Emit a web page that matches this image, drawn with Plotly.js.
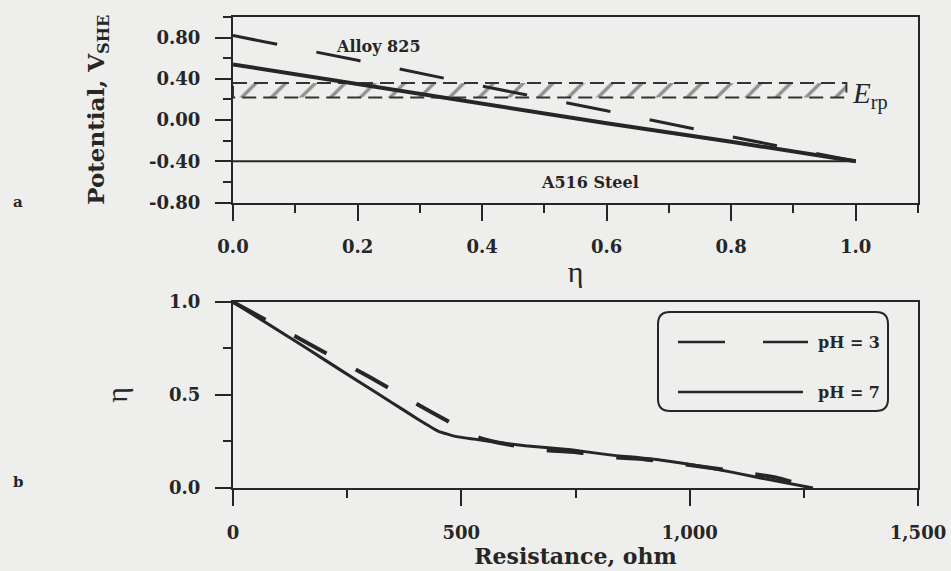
<!DOCTYPE html>
<html>
<head>
<meta charset="utf-8">
<script src="https://cdn.plot.ly/plotly-3.0.1.min.js"></script>
<style>
  html, body { margin: 0; padding: 0; background: #eeeeec; }
  #chart { width: 951px; height: 571px; }
</style>
</head>
<body>
<div id="chart"></div>
<script>
// ---- Panel a: corrosion potential vs. eta ----
const etaGrid = [0, 0.2, 0.4, 0.6, 0.8, 1.0];
const potentialPH3 = [0.82, 0.58, 0.33, 0.09, -0.16, -0.40];
const potentialPH7 = [0.54, 0.35, 0.16, -0.03, -0.21, -0.40];
const steelEta = [0, 1.0];
const steelPotential = [-0.40, -0.40];
const erpEta = [0, 0.985];          // extent of the repassivation-potential band
const erpPotential = [0.22, 0.36];  // lower / upper bound of the band

const potentialTicks = [-0.8, -0.4, 0, 0.4, 0.8];
const potentialTickText = ['-0.80', '-0.40', '0.00', '0.40', '0.80'];
const etaTicks = [0, 0.2, 0.4, 0.6, 0.8, 1.0];
const etaTickText = ['0.0', '0.2', '0.4', '0.6', '0.8', '1.0'];

// ---- Panel b: eta vs. solution resistance ----
const resistancePH3 = [0, 100, 200, 300, 400, 470, 540, 600, 680, 760, 830, 900, 980, 1100, 1190, 1270];
const etaPH3 = [1.0, 0.865, 0.73, 0.595, 0.455, 0.36, 0.27, 0.235, 0.205, 0.19, 0.165, 0.155, 0.13, 0.09, 0.055, 0.0];
const resistancePH7 = [0, 130, 200, 275, 350, 405, 450, 490, 565, 640, 740, 825, 935, 1045, 1155, 1270];
const etaPH7 = [1.0, 0.80, 0.69, 0.572, 0.456, 0.37, 0.305, 0.276, 0.25, 0.227, 0.205, 0.178, 0.151, 0.108, 0.054, 0.0];

const resistanceTicks = [0, 500, 1000, 1500];
const resistanceTickText = ['0', '500', '1,000', '1,500'];
const etaTicksB = [0, 0.5, 1.0];
const etaTickTextB = ['0.0', '0.5', '1.0'];

const seriesNames = ['pH = 3', 'pH = 7'];

// ---- styling ----
const INK = '#262626';
const BG = '#eeeeec';
const SERIF = 'DejaVu Serif';
const TIMES = 'Liberation Serif';

const W = 951, H = 571;
const M = { l: 233, r: 33, t: 17, b: 83 };
const plotW = W - M.l - M.r, plotH = H - M.t - M.b;
// pixel -> paper helpers for the hand-drawn legend box and panel letters
const px = v => (v - M.l) / plotW;
const py = v => (H - M.b - v) / plotH;

const traces = [
  {
    x: [erpEta[0], erpEta[1], erpEta[1], erpEta[0], erpEta[0]],
    y: [erpPotential[1], erpPotential[1], erpPotential[0], erpPotential[0], erpPotential[1]],
    mode: 'lines', fill: 'toself', fillcolor: 'rgba(0,0,0,0)',
    fillpattern: { shape: '/', size: 21, solidity: 0.16, fgcolor: '#333', bgcolor: 'rgba(0,0,0,0)', fillmode: 'overlay' },
    line: { color: '#333', width: 2, dash: '14px,7px' },
    xaxis: 'x', yaxis: 'y', showlegend: false, hoverinfo: 'skip'
  },
  {
    x: steelEta, y: steelPotential, mode: 'lines',
    line: { color: INK, width: 2 }, xaxis: 'x', yaxis: 'y', showlegend: false
  },
  {
    x: etaGrid, y: potentialPH3, mode: 'lines', name: seriesNames[0],
    line: { color: INK, width: 3, dash: '45px,40px' }, xaxis: 'x', yaxis: 'y', showlegend: false
  },
  {
    x: etaGrid, y: potentialPH7, mode: 'lines', name: seriesNames[1],
    line: { color: INK, width: 4 }, xaxis: 'x', yaxis: 'y', showlegend: false
  },
  {
    x: resistancePH3, y: etaPH3, mode: 'lines', name: seriesNames[0],
    line: { color: INK, width: 4, dash: '37px,33px', shape: 'spline', smoothing: 0.4 },
    xaxis: 'x2', yaxis: 'y2', showlegend: false
  },
  {
    x: resistancePH7, y: etaPH7, mode: 'lines', name: seriesNames[1],
    line: { color: INK, width: 3, shape: 'spline', smoothing: 0.4 },
    xaxis: 'x2', yaxis: 'y2', showlegend: false
  }
];

const tickFont = { family: SERIF, size: 18, color: INK, weight: 'bold' };
const axisBase = {
  showline: true, mirror: true, linecolor: INK, linewidth: 2,
  showgrid: false, zeroline: false,
  ticks: 'outside', ticklen: 16, tickwidth: 2, tickcolor: INK,
  tickfont: tickFont, tickmode: 'array', ticklabelstandoff: 11
};

const layout = {
  width: W, height: H,
  margin: M,
  paper_bgcolor: BG, plot_bgcolor: BG,
  showlegend: false,
  xaxis: Object.assign({}, axisBase, {
    domain: [0, 1], anchor: 'y', range: [0, 1.1],
    tickvals: etaTicks, ticktext: etaTickText,
    minor: { tickmode: 'linear', tick0: 0, dtick: 0.1, ticks: 'outside', ticklen: 8, tickwidth: 2, tickcolor: INK },
    title: { text: 'η', font: { family: TIMES, size: 30, color: INK }, standoff: 5 }
  }),
  yaxis: Object.assign({}, axisBase, {
    domain: [0.606, 1], anchor: 'x', range: [-0.8, 1.0],
    tickvals: potentialTicks, ticktext: potentialTickText,
    minor: { tickmode: 'linear', tick0: 0, dtick: 0.2, ticks: 'outside', ticklen: 8, tickwidth: 2, tickcolor: INK },
    title: { text: 'Potential, V<sub>SHE</sub>', font: { family: SERIF, size: 23, color: INK, weight: 'bold' }, standoff: 38 }
  }),
  xaxis2: Object.assign({}, axisBase, {
    domain: [0, 1], anchor: 'y2', range: [0, 1500],
    tickvals: resistanceTicks, ticktext: resistanceTickText,
    minor: { tickmode: 'linear', tick0: 0, dtick: 250, ticks: 'outside', ticklen: 8, tickwidth: 2, tickcolor: INK },
    title: { text: 'Resistance, ohm', font: { family: SERIF, size: 22, color: INK, weight: 'bold' }, standoff: 3 }
  }),
  yaxis2: Object.assign({}, axisBase, {
    domain: [0, 0.395], anchor: 'x2', range: [0, 1.0],
    tickvals: etaTicksB, ticktext: etaTickTextB,
    minor: { tickmode: 'linear', tick0: 0, dtick: 0.25, ticks: 'outside', ticklen: 8, tickwidth: 2, tickcolor: INK },
    title: { text: 'η', font: { family: TIMES, size: 30, color: INK }, standoff: 33 }
  }),
  annotations: [
    { xref: 'x', yref: 'y', x: 0.234, y: 0.71, text: 'Alloy 825', showarrow: false,
      font: { family: SERIF, size: 16, color: INK, weight: 'bold' } },
    { xref: 'x', yref: 'y', x: 0.573, y: -0.605, text: 'A516 Steel', showarrow: false,
      font: { family: SERIF, size: 16, color: INK, weight: 'bold' } },
    { xref: 'x', yref: 'y', x: 0.99, y: 0.235, xanchor: 'left', yanchor: 'middle',
      text: '<i>E</i><sub>rp</sub>', showarrow: false,
      font: { family: TIMES, size: 29, color: INK } },
    { xref: 'paper', yref: 'paper', x: px(18), y: py(202), xanchor: 'center', yanchor: 'middle',
      text: 'a', showarrow: false,
      font: { family: SERIF, size: 15, color: INK, weight: 'bold' } },
    { xref: 'paper', yref: 'paper', x: px(18), y: py(482), xanchor: 'center', yanchor: 'middle',
      text: 'b', showarrow: false,
      font: { family: SERIF, size: 15, color: INK, weight: 'bold' } },
    { xref: 'paper', yref: 'paper', x: px(816), y: py(342), xanchor: 'left', yanchor: 'middle',
      text: seriesNames[0], showarrow: false,
      font: { family: SERIF, size: 16, color: INK, weight: 'bold' } },
    { xref: 'paper', yref: 'paper', x: px(816), y: py(392), xanchor: 'left', yanchor: 'middle',
      text: seriesNames[1], showarrow: false,
      font: { family: SERIF, size: 16, color: INK, weight: 'bold' } }
  ],
  shapes: []
};

// legend frame with rounded corners and its two line samples
(function () {
  const x0 = px(658), x1 = px(888), yt = py(312), yb = py(411);
  const rx = 12 / plotW, ry = 12 / plotH;
  const p = [
    'M', x0 + rx, yt, 'L', x1 - rx, yt, 'Q', x1, yt, x1, yt - ry,
    'L', x1, yb + ry, 'Q', x1, yb, x1 - rx, yb,
    'L', x0 + rx, yb, 'Q', x0, yb, x0, yb + ry,
    'L', x0, yt - ry, 'Q', x0, yt, x0 + rx, yt, 'Z'
  ].join(' ');
  layout.shapes.push({ type: 'path', xref: 'paper', yref: 'paper', path: p,
    line: { color: INK, width: 2 }, fillcolor: 'rgba(0,0,0,0)' });
  layout.shapes.push({ type: 'line', xref: 'paper', yref: 'paper',
    x0: px(678), x1: px(808), y0: py(342), y1: py(342),
    line: { color: INK, width: 2.5, dash: '47px,38px' } });
  layout.shapes.push({ type: 'line', xref: 'paper', yref: 'paper',
    x0: px(678), x1: px(803), y0: py(392), y1: py(392),
    line: { color: INK, width: 2.5 } });
})();

Plotly.newPlot('chart', traces, layout, { displayModeBar: false, staticPlot: true });
</script>
</body>
</html>
